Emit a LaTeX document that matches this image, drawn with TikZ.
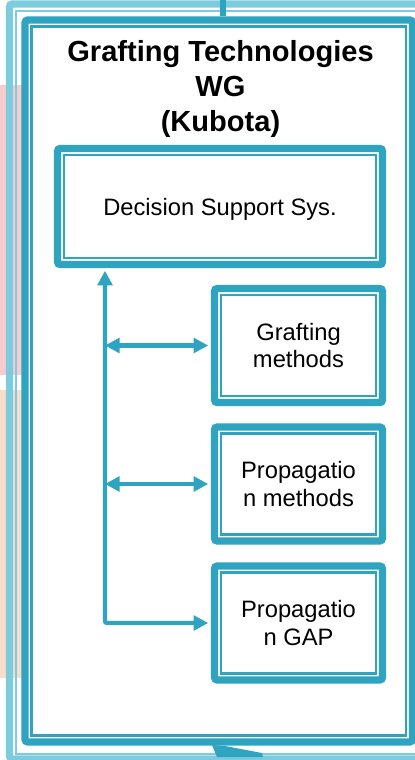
\documentclass[tikz,border=0pt]{standalone}
\usepackage{fontspec}
\setmainfont{Liberation Sans}
\usetikzlibrary{arrows.meta}

\definecolor{wgteal}{RGB}{47,164,193}
\definecolor{wglight}{RGB}{125,204,222}
\definecolor{bandpink}{RGB}{248,204,206}
\definecolor{bandpeach}{RGB}{250,220,204}

\begin{document}
\begin{tikzpicture}[
    x=0.75pt, y=-0.75pt,
    >={Triangle[length=11pt, width=11pt]},
    dblframe/.style={draw=#1, line width=5.4pt, rounded corners=2pt, inner sep=0pt,
        path picture={\draw[#1, line width=1.6pt, sharp corners]
            ([shift={(4.9pt,4.9pt)}]path picture bounding box.south west) rectangle
            ([shift={(-4.9pt,-4.9pt)}]path picture bounding box.north east);}},
    box/.style={dblframe=wgteal, fill=white, align=center, font=\fontsize{17.8}{20.5}\selectfont},
    task/.style={box, minimum width=126pt, minimum height=85.5pt},
    link/.style={wgteal, line width=3.2pt},
]
\useasboundingbox (0,0) rectangle (414,760);

% ==================== SIDE BANDS ====================
\fill[bandpink] (0,85) rectangle (22,375);
\fill[bandpeach] (0,390) rectangle (22,678);

% ==================== FRAMES ====================
% outer light frame, thick and thin line
\draw[wglight, line width=5.4pt, rounded corners=2pt] (9.5,4) rectangle (432,759);
\draw[wglight, line width=1.6pt] (16,11) rectangle (426,754);

% Stem from the parent above
\coordinate (parent) at (223,0);
\node[dblframe=wgteal, fill=white, minimum width=290.6pt, minimum height=541.5pt] (wg) at (218.75,381) {};
\draw[wgteal, line width=4.6pt] (parent) -- (parent |- wg.north);

% Pointer below the frame
\fill[wgteal] (212,745) -- (217,757) -- (263,757) -- (262,753) -- (225,746) -- cycle;

% Title
\node[font=\fontsize{21.8}{26}\selectfont\bfseries, align=center] (title) at (220.5,89)
    {Grafting Technologies\\WG\\(Kubota)};

% ==================== BOXES ====================
\node[box, text depth=0pt, minimum width=243.75pt, minimum height=87pt] (dss) at (220,206.5) {Decision Support Sys.};

\node[task] (grafting)    at (298.5,345.5) {Grafting\\methods};
\node[task] (propmethods) at (298.5,484)   {Propagatio\\n methods};
\node[task] (propgap)     at (298.5,623)   {Propagatio\\n GAP};

% ==================== LINKS ====================
\coordinate (spine) at (105,623);
\draw[link, <->, rounded corners=1.5pt, shorten <=2pt, shorten >=2pt]
    (dss.south -| spine) -- (spine) -- (propgap.west);
\draw[link, <->, shorten >=2pt] (grafting.west -| spine) -- (grafting.west);
\draw[link, <->, shorten >=2pt] (propmethods.west -| spine) -- (propmethods.west);

\end{tikzpicture}
\end{document}
